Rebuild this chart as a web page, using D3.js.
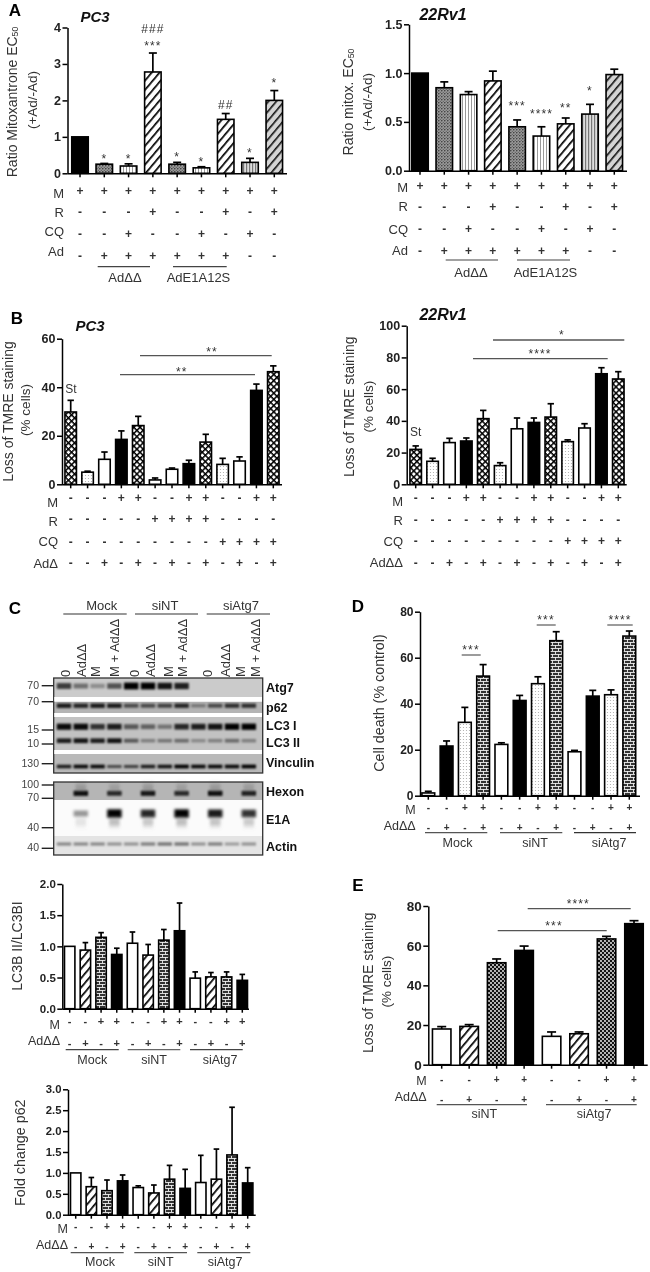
<!DOCTYPE html>
<html>
<head>
<meta charset="utf-8">
<script src="https://d3js.org/d3.v7.min.js"></script>
<style>
html,body{margin:0;padding:0;background:#fff}
svg{display:block;filter:blur(0.4px)}
text{font-family:"Liberation Sans",Arial,sans-serif;fill:#222}
</style>
</head>
<body>
<svg id="fig" width="650" height="1272"></svg>
<script>
// ---------- DATA ----------
const a1Values=[1,.25,.2,2.78,.25,.15,1.48,.3,2.0];
const a1Upper =[1,.27,.26,3.3,.3,.18,1.64,.41,2.27];
const a1Fills =["black","darkdots","vlines","hatch","darkdots","vlines","hatch","vgray","hatchgray"];
const a1Stars =["","*","*","***","*","*","","*","*"];
const a1Hash  =["","","","###","","","##","",""];
const a2Values=[1.0,.85,.78,.92,.45,.355,.48,.58,.985];
const a2Upper =[1.0,.91,.81,1.02,.52,.45,.54,.68,1.04];
const a2Stars =["","","","","***","****","**","*",""];
const a1Signs =[["M","+++++++++"],["R","---+--+-+"],["CQ","--+--+-+-"],["Ad","-++++++--"]];
const a2Signs =[["M","+++++++++"],["R","---+--+-+"],["CQ","--+--+-+-"],["Ad","-++++++--"]];
const adGroups=["AdΔΔ","AdE1A12S"];

const b1Values=[29.8,5,10.3,18.5,24.2,1.8,6.2,8.5,17.4,8.2,9.6,38.7,46.4];
const b1Upper =[34.6,5.4,13.3,22,28,2.6,6.7,9.9,20.6,10.7,11.3,41.3,48.8];
const b1Fills =["diamond","dots","white","black","diamond","white","white","black","diamond","dots","white","black","diamond"];
const b2Values=[22,14.5,26.3,27.3,41.4,11.8,35,39,42.4,26.9,35.5,69.7,66.4];
const b2Upper =[24.2,16.4,29,29.2,46.6,13.6,41.8,41.8,50.8,28,38.2,73.5,71];
const b2Fills =["diamond","dots","white","black","diamond","dots","white","black","diamond","dots","white","black","diamond"];
const bRowM ="---++--++--++";
const bRowR ="-----++++----";
const bRowCQ="---------++++";
const bRowAd="--+-+-+-+-+-+";

const dValues=[1.2,21.6,31.9,52,22.3,41.4,48.7,67.4,19.1,43.3,43.9,69.4];
const dUpper =[1.9,23.8,38.4,57,23,43.6,51.7,71.3,19.7,45.8,46,71.6];
const dFills =["white","black","dots","brick","white","black","dots","brick","white","black","dots","brick"];
const lcValues=[1,.94,1.145,.87,1.05,.86,1.1,1.25,.49,.51,.51,.455];
const lcUpper =[1,1.06,1.22,.97,1.23,1.03,1.27,1.695,.59,.58,.59,.55];
const lcFills =["white","hatch","brick","black","white","hatch","brick","black","white","hatch","brick","black"];
const pValues=[1,.67,.575,.81,.65,.52,.85,.63,.77,.85,1.43,.76];
const pUpper =[1,.89,.83,.95,.69,.71,1.18,1.085,1.42,1.57,2.57,1.125];
const eValues=[18,19.3,51.4,57.6,14.3,15.6,63.4,71.1];
const eUpper =[19.2,20.2,53.3,59.8,16.5,16.5,64.7,72.6];
const eFills =["white","hatch","checker","black","white","hatch","checker","black"];
const rowM12 ="--++--++--++";
const rowAd12="-+-+-+-+-+-+";
const rowM8  ="--++--++";
const rowAd8 ="-+-+-+-+";
const groups3=["Mock","siNT","siAtg7"];
const groups2=["siNT","siAtg7"];

// western blot: darkness of each band per lane
const laneLabels=["0","AdΔΔ","M","M + AdΔΔ","0","AdΔΔ","M","M + AdΔΔ","0","AdΔΔ","M","M + AdΔΔ"];
const bandAtg7 =[.7,.45,.3,.6,1,1,.9,.85,0,0,0,0];
const bandP62  =[.85,.8,.85,.85,.6,.6,.65,.8,.35,.6,.75,.75];
const bandLC3I =[.95,.95,.75,.85,.55,.5,.4,.8,.85,.9,1,1];
const bandLC3II=[.85,.9,.85,.9,.55,.35,.4,.45,.3,.35,.45,.35];
const bandVinc =[.85,.95,.95,.6,.65,.85,.9,1,.95,.95,.95,1];
const bandHexon=[0,.95,0,.8,0,.9,0,.8,0,.95,0,.85];
const bandE1A  =[0,.4,0,1,0,.85,0,1,0,.9,0,.8];
const bandActin=[.5,.5,.5,.45,.45,.55,.6,.6,.45,.55,.4,.45];
const markers  =["70","70","15","10","130","100","70","40","40"];
const markerPos=[685.7,701.7,730,744,763.7,785,798.3,827.7,848.3];

// ---------- SETUP ----------
const svg=d3.select("#fig");
const defs=svg.append("defs");
function pat(id,w,h,draw,tf){
  const p=defs.append("pattern").attr("id",id).attr("patternUnits","userSpaceOnUse").attr("width",w).attr("height",h);
  if(tf)p.attr("patternTransform",tf);
  draw(p);
}
const R=(p,x,y,w,h,c)=>p.append("rect").attr("x",x).attr("y",y).attr("width",w).attr("height",h).attr("fill",c);
const C=(p,x,y,r,c)=>p.append("circle").attr("cx",x).attr("cy",y).attr("r",r).attr("fill",c);
pat("hatch",6,6,p=>{R(p,0,0,6,6,"#fff");R(p,0,0,1.7,6,"#000")},"rotate(40)");
pat("hatchgray",6,6,p=>{R(p,0,0,6,6,"#d4d4d4");R(p,0,0,1.6,6,"#111")},"rotate(40)");
pat("diamond",4.4,4.4,p=>{R(p,0,0,4.4,4.4,"#fff");R(p,0,0,1.5,4.4,"#000");R(p,0,0,4.4,1.5,"#000")},"rotate(45)");
pat("dots",3,3,p=>{R(p,0,0,3,3,"#fff");C(p,1.5,1.5,.6,"#aaa")});
pat("darkdots",3,3,p=>{R(p,0,0,3,3,"#999");C(p,.8,.8,.8,"#333");C(p,2.3,2.3,.6,"#555")});
pat("vlines",3,3,p=>{R(p,0,0,3,3,"#fff");R(p,0,0,1,3,"#999")});
pat("vgray",3,3,p=>{R(p,0,0,3,3,"#ddd");R(p,0,0,1.2,3,"#777")});
pat("brick",6,6,p=>{R(p,0,0,6,6,"#333");R(p,0,0,6,.9,"#eee");R(p,0,3,6,.9,"#eee");R(p,0,0,.9,3,"#eee");R(p,3,3,.9,3,"#eee")});
pat("checker",4,4,p=>{R(p,0,0,4,4,"#111");C(p,1,1,.9,"#fff");C(p,3,3,.9,"#fff")});
function blurFilter(id,sd){
  defs.append("filter").attr("id",id).attr("x","-30%").attr("y","-150%").attr("width","160%").attr("height","400%")
    .append("feGaussianBlur").attr("stdDeviation",sd);
}
blurFilter("band","1.3 1.1");
blurFilter("soft","1.8 1.7");
blurFilter("smear","1.8 2.4");

const fillOf=k=>k==="black"?"#000":k==="white"?"#fff":`url(#${k})`;
function label(x,y,t,o={}){
  return svg.append("text").attr("x",x).attr("y",y).attr("dominant-baseline","central")
    .attr("text-anchor",o.anchor||"middle").attr("font-size",o.size||12)
    .attr("font-weight",o.bold?"bold":null).attr("font-style",o.italic?"italic":null)
    .attr("letter-spacing",o.spacing||null)
    .style("fill",o.color||null).text(t);
}
const stars=(x,y,t)=>label(x,y+1,t,{size:12,spacing:1.1,color:"#333"});
function vlabel(x,y,t,size,sub){
  const g=svg.append("text").attr("transform",`translate(${x},${y}) rotate(-90)`)
    .attr("text-anchor","middle").attr("dominant-baseline","central").attr("font-size",size).style("fill","#333").text(t);
  if(sub)g.append("tspan").attr("font-size",size*.62).attr("dy",3).text(sub);
  return g;
}
function hline(x1,x2,y,c,w){
  svg.append("line").attr("x1",x1).attr("x2",x2).attr("y1",y).attr("y2",y).attr("stroke",c||"#444").attr("stroke-width",w||1.2);
}

function barChart(c){
  const n=c.values.length;
  const step=(c.last-c.first)/(n-1);
  const x=d3.scaleBand().domain(d3.range(n))
    .range([c.first-step/2,c.last+step/2])
    .paddingInner(1-c.bar/step).paddingOuter((1-c.bar/step)/2);
  const y=d3.scaleLinear().domain([0,c.max]).range([c.y0,c.y1]);
  const g=svg.append("g");
  const cx=i=>x(i)+x.bandwidth()/2;
  g.selectAll("rect.bar").data(c.values).join("rect").attr("class","bar")
    .attr("x",(d,i)=>x(i)).attr("y",d=>y(d)).attr("width",x.bandwidth()).attr("height",d=>c.y0-y(d))
    .attr("fill",(d,i)=>fillOf(c.fills[i])).attr("stroke","#000").attr("stroke-width",c.sw||1.6);
  const eb=c.upper.map((u,i)=>({u,i,v:c.values[i]})).filter(d=>d.u>d.v);
  g.selectAll("line.err").data(eb).join("line").attr("stroke","#000").attr("stroke-width",1.7)
    .attr("x1",d=>cx(d.i)).attr("x2",d=>cx(d.i)).attr("y1",d=>y(d.v)).attr("y2",d=>y(d.u));
  g.selectAll("line.cap").data(eb).join("line").attr("stroke","#000").attr("stroke-width",1.7)
    .attr("x1",d=>cx(d.i)-c.cap).attr("x2",d=>cx(d.i)+c.cap).attr("y1",d=>y(d.u)).attr("y2",d=>y(d.u));
  const ya=g.append("g").attr("transform",`translate(${c.axisX},0)`)
    .call(d3.axisLeft(y).tickValues(c.ticks).tickFormat(c.fmt||d3.format("d")).tickSize(5).tickSizeOuter(0));
  ya.selectAll("text").attr("font-size",c.tickFont).attr("font-weight","bold").attr("font-family",'"Liberation Sans"').style("fill","#222").attr("x",-6.5);
  ya.selectAll("line,path").attr("stroke","#000").attr("stroke-width",1.5);
  const xa=g.append("g").attr("transform",`translate(0,${c.y0})`)
    .call(d3.axisBottom(x).tickFormat("").tickSize(4).tickSizeOuter(0));
  xa.select(".domain").attr("d",`M${c.axisX},0.5H${c.axisEnd}`);
  xa.selectAll("line,path").attr("stroke","#000").attr("stroke-width",1.5);
  (c.rows||[]).forEach(r=>{
    if(r.label)label(c.labelX,r.ly,r.label,{anchor:"end",size:c.rowFont||13,color:"#333"});
    r.s.split("").forEach((ch,i)=>label(cx(i),r.y,ch==="+"?"+":"-",{size:c.signFont||12,bold:c.signBold!==false,color:"#333"}));
  });
  (c.notes||[]).forEach(a=>{
    a.t.forEach((t,i)=>{ if(t) stars(cx(i),a.y[i],t); });
  });
  return {x,y,cx};
}

// ---------- PANEL A ----------
label(15,10,"A",{size:17,bold:true,color:"#000"});
label(95,16,"PC3",{size:15,bold:true,italic:true,color:"#111"});
barChart({values:a1Values,upper:a1Upper,fills:a1Fills,
  first:80,last:274.3,bar:16.5,cap:4,max:4,y0:173.3,y1:27.5,axisX:67.5,axisEnd:287,ticks:[0,1,2,3,4],tickFont:12.5,
  labelX:64,rowFont:13,
  rows:[{label:a1Signs[0][0],s:a1Signs[0][1],y:190.7,ly:193.5},{label:a1Signs[1][0],s:a1Signs[1][1],y:211.7,ly:212},
        {label:a1Signs[2][0],s:a1Signs[2][1],y:234,ly:231},{label:a1Signs[3][0],s:a1Signs[3][1],y:256,ly:251.5}],
  notes:[{t:a1Stars,y:[0,158,158,45,156,161,0,152,82]},{t:a1Hash,y:[0,0,0,28,0,0,104,0,0]}]});
vlabel(12,102,"Ratio Mitoxantrone EC",14,"50");
vlabel(32,100,"(+Ad/-Ad)",13.5);
hline(97.7,150,266.7);hline(173,226.7,266.7);
label(125,277.5,adGroups[0],{size:13,color:"#333"});
label(198.5,277.5,adGroups[1],{size:13,color:"#333"});

label(443,14,"22Rv1",{size:16,bold:true,italic:true,color:"#111"});
barChart({values:a2Values,upper:a2Upper,fills:a1Fills,
  first:420,last:614.3,bar:16.5,cap:4,max:1.5,y0:170.7,y1:24.3,axisX:409,axisEnd:627,ticks:[0,.5,1,1.5],fmt:d3.format(".1f"),tickFont:12.5,
  labelX:408,rowFont:13,
  rows:[{label:a2Signs[0][0],s:a2Signs[0][1],y:185.7,ly:187},{label:a2Signs[1][0],s:a2Signs[1][1],y:206.7,ly:206.7},
        {label:a2Signs[2][0],s:a2Signs[2][1],y:228.7,ly:229},{label:a2Signs[3][0],s:a2Signs[3][1],y:250.7,ly:250}],
  notes:[{t:a2Stars,y:[0,0,0,0,105,113,107,90,0]}]});
vlabel(347.7,102,"Ratio mitox. EC",14,"50");
vlabel(367.7,102,"(+Ad/-Ad)",13.5);
hline(445.7,498,260);hline(517,570,260);
label(471,272,adGroups[0],{size:13,color:"#333"});
label(545.5,272,adGroups[1],{size:13,color:"#333"});

// ---------- PANEL B ----------
label(17,318,"B",{size:17,bold:true,color:"#000"});
label(90,325,"PC3",{size:15,bold:true,italic:true,color:"#111"});
barChart({values:b1Values,upper:b1Upper,fills:b1Fills,
  first:70.7,last:273.3,bar:11.5,cap:3.2,max:60,y0:484.3,y1:338.7,axisX:62,axisEnd:282,ticks:[0,20,40,60],tickFont:12.5,
  labelX:58,rowFont:13,
  rows:[{label:"M",s:bRowM,y:498,ly:502},{label:"R",s:bRowR,y:519,ly:521},{label:"CQ",s:bRowCQ,y:541.7,ly:541.7},{label:"AdΔ",s:bRowAd,y:563,ly:563}]});
vlabel(7.7,411.5,"Loss of TMRE staining",14);
vlabel(25.7,410,"(% cells)",13.5);
label(71,389,"St",{size:12,color:"#333"});
hline(120,255,374.7,"#555",1.3);hline(140,271.7,355.7,"#555",1.3);
stars(181.7,371,"**");
stars(212,350.5,"**");

label(443,314,"22Rv1",{size:16,bold:true,italic:true,color:"#111"});
barChart({values:b2Values,upper:b2Upper,fills:b2Fills,
  first:415.7,last:618.3,bar:11.5,cap:3.2,max:100,y0:484.3,y1:325.7,axisX:406.7,axisEnd:626.7,ticks:[0,20,40,60,80,100],tickFont:12.5,
  labelX:403,rowFont:13,
  rows:[{label:"M",s:bRowM,y:498,ly:501},{label:"R",s:bRowR,y:520,ly:520},{label:"CQ",s:bRowCQ,y:541,ly:541},{label:"AdΔΔ",s:bRowAd,y:563,ly:562}]});
vlabel(349,406.7,"Loss of TMRE staining",14);
vlabel(368,406.7,"(% cells)",13.5);
label(415.7,431.7,"St",{size:12,color:"#333"});
hline(473,607.7,358.7,"#555",1.3);hline(493,624.3,340,"#555",1.3);
stars(540,353,"****");
stars(562,334,"*");

// ---------- PANEL C (blot) ----------
label(15,608,"C",{size:17,bold:true,color:"#000"});
const lane=d3.scaleBand().domain(d3.range(12)).range([55.6,257.2]).paddingInner(.14).paddingOuter(.07);
const strips=[
 {y:678,h:19,bg:"#cbcbcb"},{y:701.5,h:11.5,bg:"#b4b4b4"},{y:717,h:33,bg:"#c2c2c2"},{y:754,h:19,bg:"#b9b9b9"},
 {y:782,h:18,bg:"#b5b5b5"},{y:800,h:36,bg:"#fbfbfb"},{y:836,h:19,bg:"#e4e4e4"}];
svg.append("g").selectAll("rect").data(strips).join("rect")
  .attr("x",53.7).attr("width",209).attr("y",d=>d.y).attr("height",d=>d.h).attr("fill",d=>d.bg);
const blotRows=[
 {v:bandAtg7,y:686,h:6.5,top:1,f:"band"},{v:bandP62,y:705.7,h:4.6,top:1,f:"band"},{v:bandLC3I,y:726.7,h:6,top:1,f:"band"},{v:bandLC3II,y:740.7,h:4.8,top:1,f:"band"},
 {v:bandVinc,y:766.5,h:3.6,top:1,f:"band"},{v:bandHexon,y:793.3,h:5,top:1,f:"band"},{v:bandE1A,y:813.5,h:8,top:1,f:"soft"},{v:bandActin,y:844,h:4,top:.8,f:"band"}];
const bands=svg.append("g");
blotRows.forEach(r=>{
  bands.append("g").attr("filter",`url(#${r.f})`).selectAll("rect").data(r.v).join("rect")
    .attr("x",(d,i)=>lane(i)).attr("width",lane.bandwidth())
    .attr("y",d=>r.y-r.h*(.55+.5*d)/2).attr("height",d=>r.h*(.55+.5*d)).attr("fill","#000").attr("opacity",d=>d*r.top);
});
// faint smears belonging to the adenoviral bands
bands.append("g").attr("filter","url(#smear)").selectAll("rect").data(bandE1A).join("rect")
  .attr("x",(d,i)=>lane(i)+2).attr("width",lane.bandwidth()-4).attr("y",818).attr("height",8).attr("fill","#777").attr("opacity",d=>d*.5);
bands.append("g").attr("filter","url(#smear)").selectAll("rect").data(bandHexon).join("rect")
  .attr("x",(d,i)=>lane(i)+2).attr("width",lane.bandwidth()-4).attr("y",784).attr("height",8).attr("fill","#555").attr("opacity",d=>d*.35);
svg.append("rect").attr("x",53.7).attr("y",678).attr("width",209).attr("height",95).attr("fill","none").attr("stroke","#333").attr("stroke-width",1.3);
svg.append("rect").attr("x",53.7).attr("y",782).attr("width",209).attr("height",73).attr("fill","none").attr("stroke","#333").attr("stroke-width",1.3);
// white gaps on top of the frame interior
[[697,4.5],[713,4],[750,4]].forEach(g=>svg.append("rect").attr("x",54.4).attr("y",g[0]).attr("width",207.6).attr("height",g[1]).attr("fill","#fff"));
markers.forEach((m,i)=>{
  hline(41.7,53.5,markerPos[i],"#222",1.4);
  label(39,markerPos[i]-1,m,{anchor:"end",size:10.5,color:"#444"});
});
[["Atg7",688],["p62",707.7],["LC3 I",726],["LC3 II",742.7],["Vinculin",762.7],["Hexon",792],["E1A",820],["Actin",846.7]]
  .forEach(d=>label(266,d[1],d[0],{anchor:"start",size:12.5,bold:true,color:"#111"}));
const laneX=[65.7,81,95,114,134,150.7,168,182.7,207,225.7,240,255];
laneLabels.forEach((t,i)=>{
  svg.append("text").attr("transform",`translate(${laneX[i]},677) rotate(-90)`).attr("text-anchor","start").attr("dominant-baseline","central")
    .attr("font-size",13).style("fill","#333").text(t);
});
hline(63.3,126.7,614,"#333",1.2);hline(135,198,614,"#333",1.2);hline(206.7,270,614,"#333",1.2);
label(101.7,605.5,groups3[0],{size:13,color:"#333"});
label(165,605.5,groups3[1],{size:13,color:"#333"});
label(241,605.5,groups3[2],{size:13,color:"#333"});

// ---------- PANEL D ----------
label(358,606,"D",{size:17,bold:true,color:"#000"});
barChart({values:dValues,upper:dUpper,fills:dFills,
  first:428.3,last:629.3,bar:12.8,cap:3.5,max:80,y0:795.7,y1:611.7,axisX:420,axisEnd:640,ticks:[0,20,40,60,80],tickFont:12,
  labelX:415.7,rowFont:12.5,signFont:10,
  rows:[{label:"M",s:rowM12,y:807,ly:810},{label:"AdΔΔ",s:rowAd12,y:827,ly:826}]});
vlabel(379,703,"Cell death (% control)",14.3);
hline(461.7,480.7,655,"#666",1.3);hline(536.7,555.7,625,"#666",1.3);hline(607.3,632.7,625,"#666",1.3);
stars(471,649,"***");
stars(546,619,"***");
stars(620,619,"****");
hline(425,487.3,832.7,"#555",1.2);hline(500,562.3,832.7,"#555",1.2);hline(574,636,832.7,"#333",1.2);
label(457.5,842.5,groups3[0],{size:12.5,color:"#333"});
label(535,842.5,groups3[1],{size:12.5,color:"#333"});
label(609,842.5,groups3[2],{size:12.5,color:"#333"});

// ---------- LC3 ----------
barChart({values:lcValues,upper:lcUpper,fills:lcFills,
  first:69.7,last:242.3,bar:10.4,cap:2.8,max:2,y0:1008.7,y1:884,axisX:62.3,axisEnd:249,ticks:[0,.5,1,1.5,2],fmt:d3.format(".1f"),tickFont:11.5,
  labelX:60,rowFont:12.5,signFont:11,
  rows:[{label:"M",s:rowM12,y:1021.3,ly:1024.5},{label:"AdΔΔ",s:rowAd12,y:1043.3,ly:1041}]});
vlabel(17.3,946,"LC3B II/LC3BI",14);
hline(65.7,118.7,1049.7,"#444",1.2);hline(127.7,180.3,1049.7,"#666",1.2);hline(190,242.7,1049.7,"#444",1.2);
label(92.3,1059.5,groups3[0],{size:12.5,color:"#333"});
label(154,1059.5,groups3[1],{size:12.5,color:"#333"});
label(220,1059.5,groups3[2],{size:12.5,color:"#333"});

// ---------- p62 ----------
barChart({values:pValues,upper:pUpper,fills:lcFills,
  first:75.7,last:247.7,bar:10.4,cap:2.8,max:3,y0:1214.7,y1:1089.3,axisX:68,axisEnd:255.7,ticks:[0,.5,1,1.5,2,2.5,3],fmt:d3.format(".1f"),tickFont:11.3,
  labelX:68,rowFont:12.5,signFont:10,
  rows:[{label:"M",s:rowM12,y:1226.7,ly:1228.7},{label:"AdΔΔ",s:rowAd12,y:1246.7,ly:1245}]});
vlabel(20,1152.7,"Fold change p62",14.3);
hline(70.7,123.7,1252.7,"#555",1.2);hline(134.3,187,1252.7,"#555",1.2);hline(197.3,250.3,1252.7,"#555",1.2);
label(100,1261.5,groups3[0],{size:12.5,color:"#333"});
label(160.7,1261.5,groups3[1],{size:12.5,color:"#333"});
label(225,1261.5,groups3[2],{size:12.5,color:"#333"});

// ---------- PANEL E ----------
label(358,885,"E",{size:17,bold:true,color:"#000"});
barChart({values:eValues,upper:eUpper,fills:eFills,
  first:441.7,last:634,bar:18.5,cap:4.5,max:80,y0:1064.7,y1:906,axisX:428.3,axisEnd:647.7,ticks:[0,20,40,60,80],tickFont:13.5,
  labelX:426.7,rowFont:12.5,signFont:10,
  rows:[{label:"M",s:rowM8,y:1079,ly:1081},{label:"AdΔΔ",s:rowAd8,y:1099,ly:1097}]});
vlabel(368.3,982.7,"Loss of TMRE staining",14);
vlabel(386.7,981.7,"(% cells)",13.5);
hline(497.7,606.7,930.7,"#555",1.3);hline(527.7,630.7,908.7,"#555",1.3);
stars(554,925,"***");
stars(578.3,902.5,"****");
hline(436.7,527,1104.7,"#555",1.2);hline(546,636.7,1104.7,"#555",1.2);
label(484.3,1114,groups2[0],{size:12.5,color:"#333"});
label(594,1114,groups2[1],{size:12.5,color:"#333"});
</script>
</body>
</html>
